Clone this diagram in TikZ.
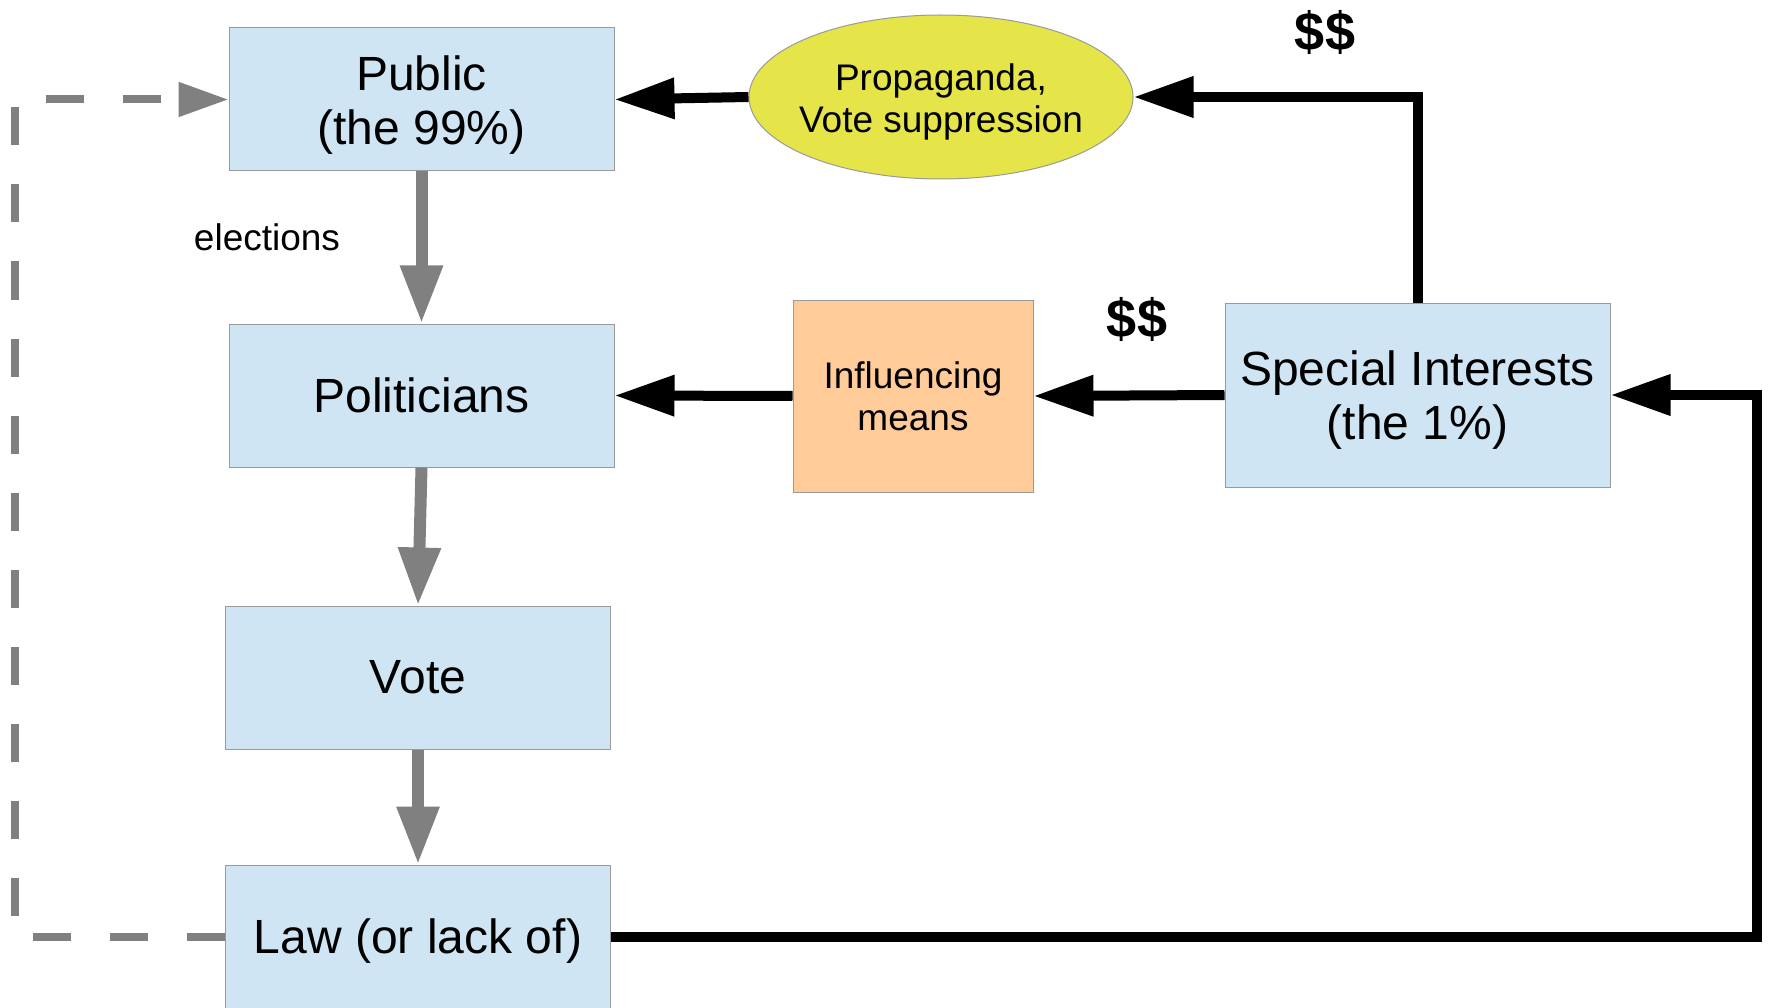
\documentclass[tikz,border=0pt]{standalone}
\usepackage{fontspec}
\setmainfont{Liberation Sans}
\usetikzlibrary{arrows.meta,shapes.geometric}
\definecolor{boxblue}{HTML}{CFE5F3}
\definecolor{boxline}{HTML}{9A9A9A}
\definecolor{ellyellow}{HTML}{E5E54A}
\definecolor{peach}{HTML}{FFCC99}
\definecolor{arrgray}{HTML}{808080}
\tikzset{
  bluebox/.style={draw=boxline, line width=1pt, fill=boxblue, minimum width=385pt, minimum height=143pt, inner sep=0pt, align=center, font=\fontsize{48}{54}\selectfont},
  bigtext/.style={inner sep=0pt, align=center, font=\fontsize{48}{54}\selectfont},
  midtext/.style={inner sep=0pt, align=center, font=\fontsize{37}{42}\selectfont},
  blackarr/.style={line width=10pt, black, -{Triangle[length=60pt,width=39pt]}},
  grayarr/.style={line width=12pt, arrgray, -{Triangle[length=58pt,width=40pt]}},
  dasharr/.style={line width=8pt, arrgray, dash pattern=on 38pt off 39pt, -{Triangle[length=50pt,width=33pt]}},
  dollar/.style={font=\fontsize{54}{60}\selectfont\bfseries, inner sep=0pt}
}
\begin{document}
\begin{tikzpicture}[x=1pt,y=-1pt]
\useasboundingbox (0,0) rectangle (1769,1008);
\clip (0,0) rectangle (1769,1008);
% boxes
\node[bluebox] (pub) at (421.5,99.5) {};
\node[bigtext, yshift=-6pt] (pubt) at (pub.center) {Public\\(the 99\%)};
\node[bluebox] (pol) at (421.5,395.5) {Politicians};
\node[bluebox] (vote) at (418,677.5) {Vote};
\node[bluebox] (law) at (418,936.5) {};
\node[bigtext, yshift=-4.5pt] (lawt) at (law.center) {Law (or lack of)};
\node[draw=boxline, line width=1pt, fill=ellyellow, ellipse, minimum width=384pt, minimum height=164pt, inner sep=0pt] (ell) at (941,97) {};
\node[midtext, yshift=-4.5pt] (ellt) at (ell.center) {Propaganda,\\Vote suppression};
\node[draw=boxline, line width=1pt, fill=peach, minimum width=240pt, minimum height=192pt, inner sep=0pt] (infl) at (913,396) {};
\node[midtext] (inflt) at (infl.center) {Influencing\\means};
\node[bluebox, minimum height=184pt] (si) at (1417.5,395) {};
\node[bigtext, yshift=-5.5pt] (sit) at (si.center) {Special Interests\\(the 1\%)};
% labels
\node[font=\fontsize{37}{42}\selectfont, inner sep=0pt] (elec) at (267,237) {elections};
\node[dollar] (d1) at (1325,32) {\$\$};
\node[dollar] (d2) at (1137,319) {\$\$};
\coordinate (rr) at (1757,395);
\coordinate (dl) at (15,99.5);
% black connectors
\draw[blackarr] (ell.west) -- (pub.east);
\draw[blackarr] (si.north) |- (ell.east);
\draw[blackarr] (si.west) -- (infl.east);
\draw[blackarr] (infl.west) -- (pol.east);
\draw[blackarr] (law.east) -| (rr) -- (si.east);
% gray connectors
\draw[grayarr] (pub.south) -- (pol.north);
\draw[grayarr] (pol.south) -- (vote.north);
\draw[grayarr] (vote.south) -- (law.north);
% dashed feedback
\draw[dasharr] (law.west) -| (dl) -- (pub.west);
\end{tikzpicture}
\end{document}
